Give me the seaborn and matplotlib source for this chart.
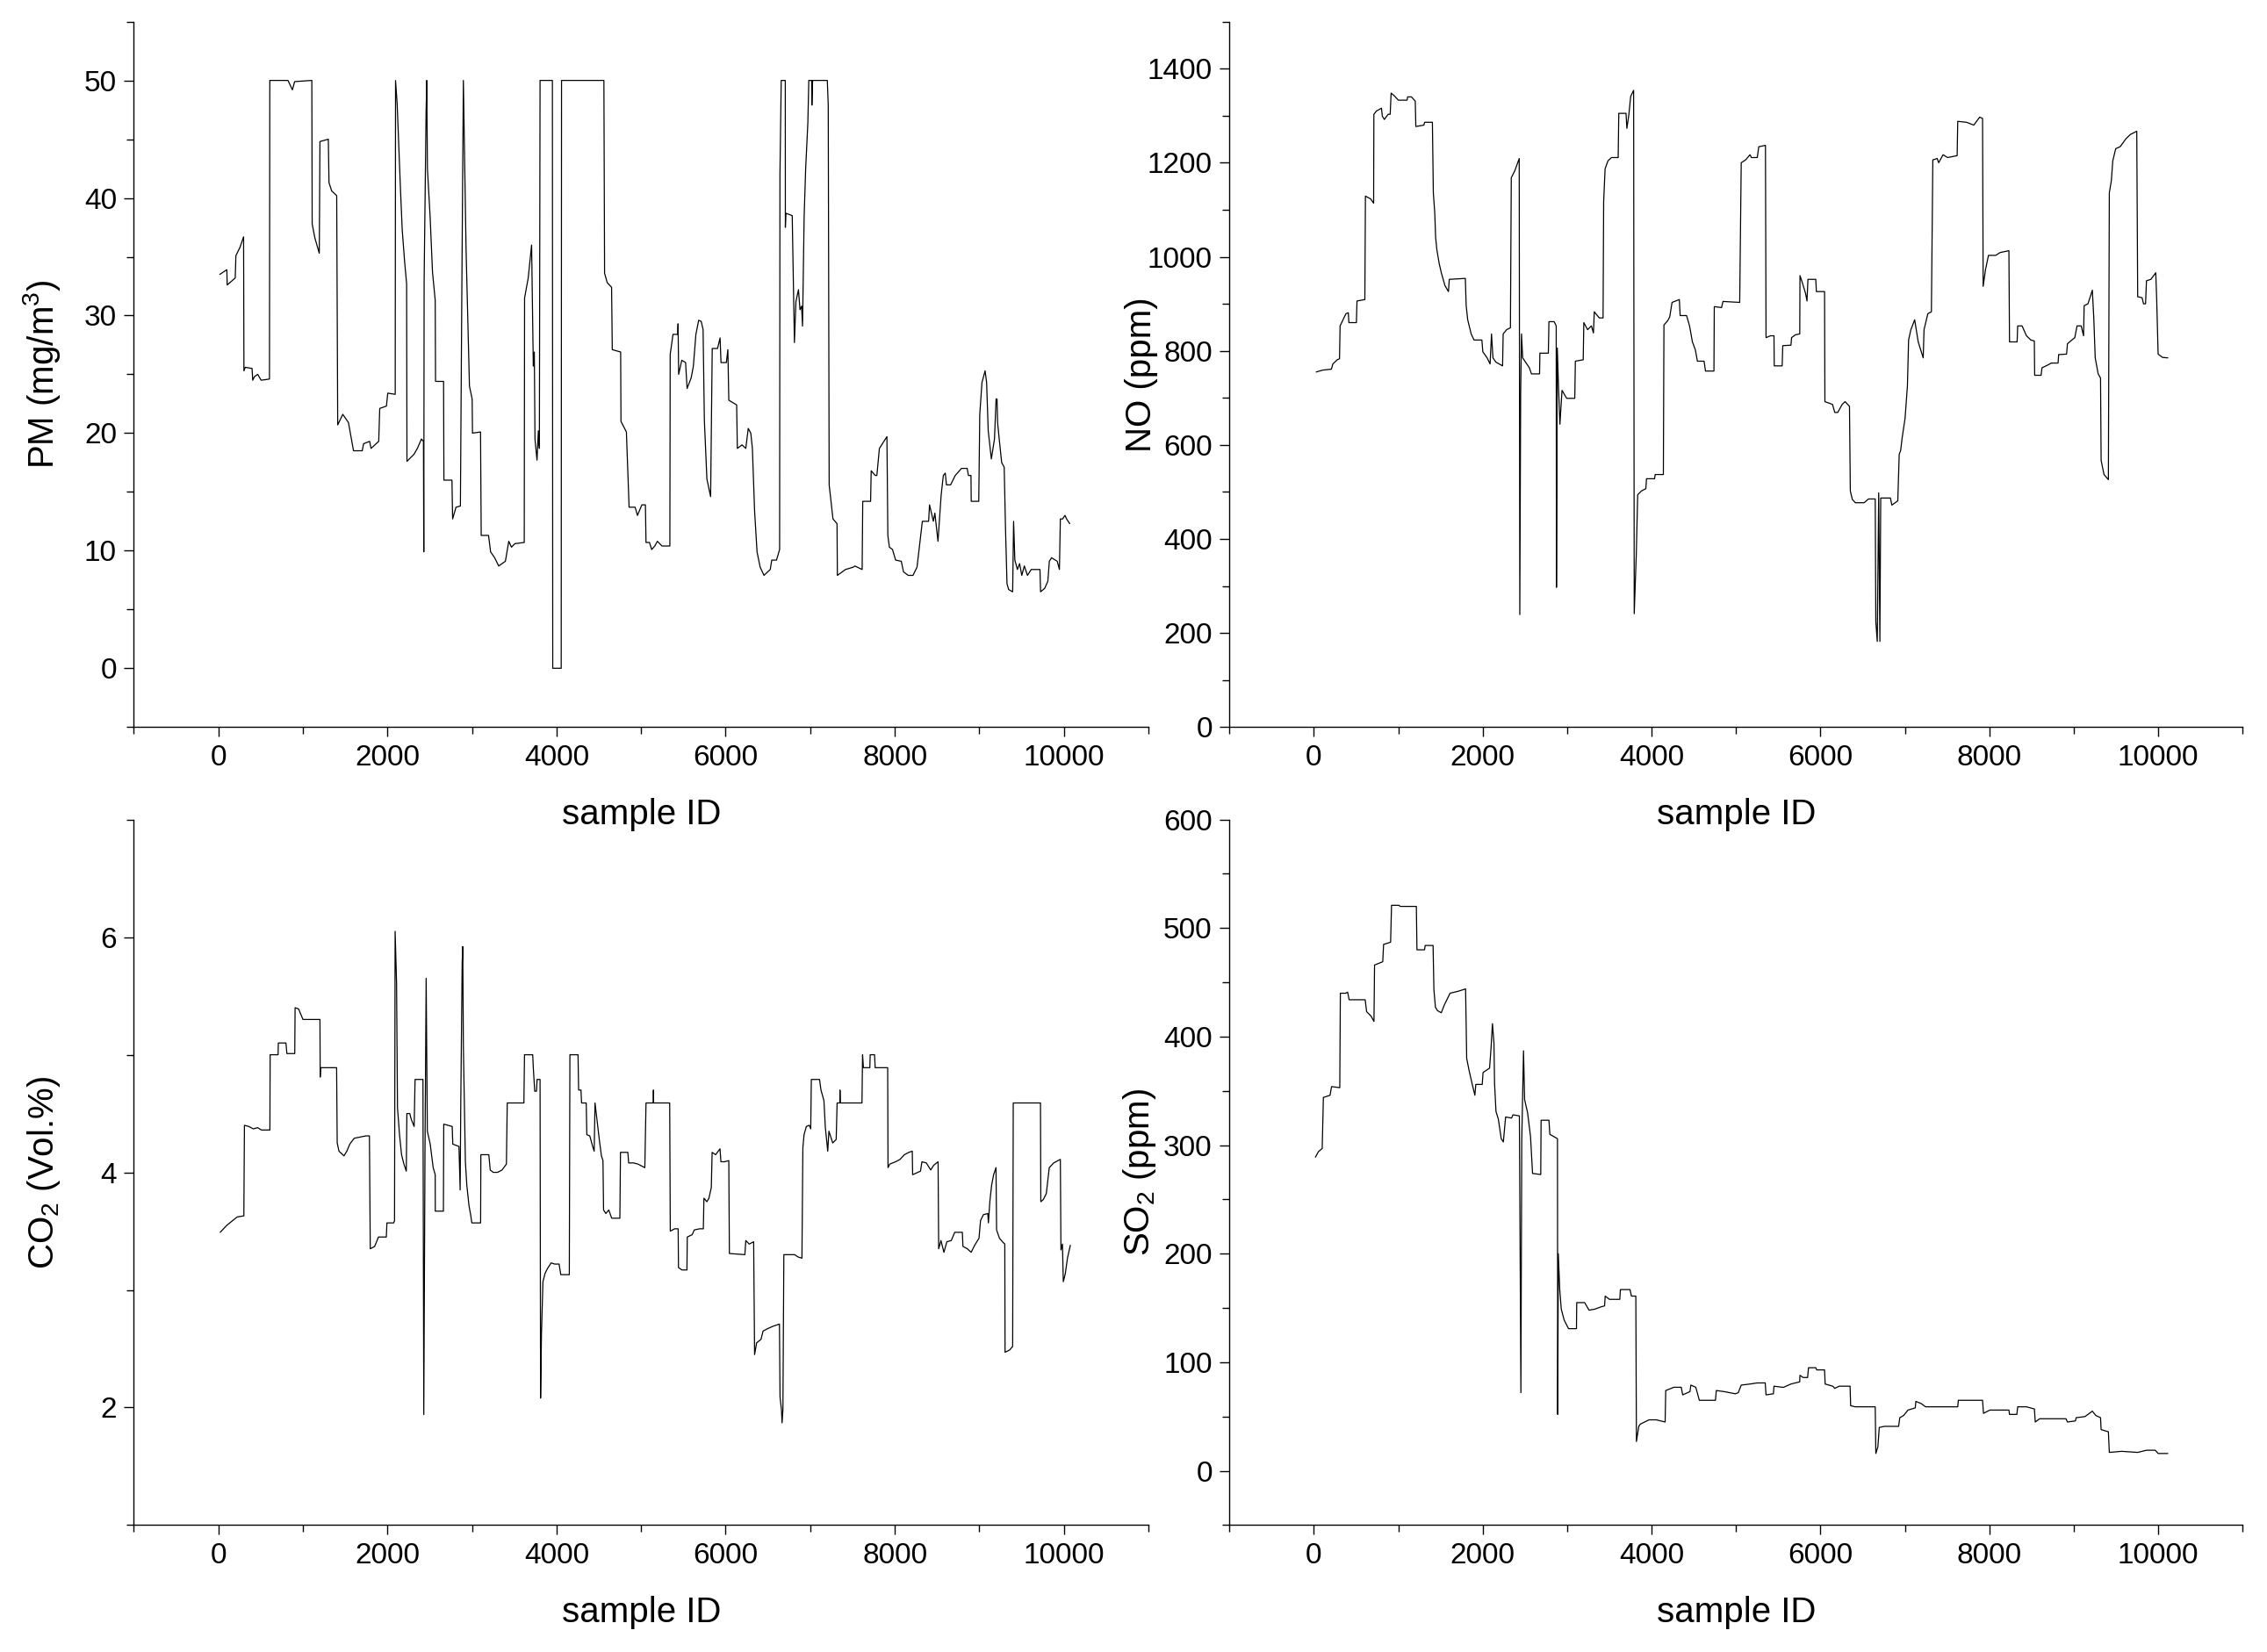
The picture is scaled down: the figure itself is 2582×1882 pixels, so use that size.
import pandas as pd
import matplotlib
matplotlib.use("Agg")
import matplotlib.pyplot as plt
from matplotlib.ticker import MultipleLocator
import seaborn as sns

# values (sample ID, concentration)
pm_x = [17, 101, 105, 200, 208, 256, 299, 303, 319, 399, 407, 427, 466, 506, 605, 609, 824, 876, 903, 1106,
        1110, 1142, 1194, 1202, 1301, 1309, 1341, 1400, 1412, 1472, 1539, 1599, 1702, 1718, 1790, 1806, 1897,
        1909, 1988, 2004, 2092, 2096, 2115, 2135, 2155, 2175, 2203, 2227, 2231, 2314, 2354, 2402, 2426, 2430,
        2434, 2457, 2465, 2473, 2505, 2533, 2565, 2569, 2664, 2668, 2763, 2771, 2811, 2863, 2879, 2898, 2910,
        2930, 2950, 2970, 3002, 3006, 3101, 3109, 3196, 3220, 3268, 3316, 3395, 3435, 3467, 3507, 3618, 3622,
        3665, 3705, 3713, 3725, 3737, 3745, 3769, 3785, 3797, 3805, 3951, 3955, 4055, 4059, 4560, 4568, 4599,
        4651, 4659, 4758, 4762, 4826, 4858, 4929, 4957, 5009, 5051, 5058, 5099, 5125, 5162, 5192, 5247, 5340,
        5344, 5377, 5433, 5437, 5444, 5481, 5526, 5544, 5592, 5618, 5648, 5681, 5711, 5733, 5748, 5778, 5822,
        5841, 5904, 5934, 5945, 6008, 6026, 6037, 6130, 6138, 6193, 6238, 6267, 6297, 6316, 6342, 6371, 6408,
        6453, 6527, 6545, 6601, 6638, 6642, 6657, 6705, 6706, 6712, 6787, 6813, 6831, 6861, 6879, 6898, 6909,
        6928, 6946, 6972, 6983, 7017, 7020, 7028, 7202, 7213, 7224, 7269, 7317, 7321, 7417, 7510, 7528, 7614,
        7621, 7714, 7721, 7769, 7788, 7818, 7862, 7907, 7918, 7936, 7973, 8010, 8077, 8103, 8159, 8215, 8263,
        8326, 8400, 8411, 8456, 8474, 8511, 8548, 8574, 8597, 8611, 8660, 8715, 8789, 8856, 8871, 8901, 8904,
        8993, 9005, 9031, 9068, 9086, 9105, 9142, 9179, 9198, 9209, 9216, 9235, 9264, 9294, 9309, 9327, 9346,
        9394, 9405, 9420, 9450, 9476, 9502, 9532, 9569, 9613, 9717, 9724, 9773, 9810, 9828, 9854, 9921, 9947,
        9958, 9984, 10013, 10032, 10069]
pm_y = [33.5, 33.9, 32.6, 33.2, 35.1, 35.8, 36.7, 25.3, 25.6, 25.5, 24.5, 24.8, 25.0, 24.5, 24.6, 50, 50, 49.2,
        49.9, 50, 37.8, 36.6, 35.3, 44.8, 45, 41.3, 40.6, 40.2, 20.7, 21.6, 20.9, 18.5, 18.5, 19.1, 19.3, 18.7,
        19.3, 22.1, 22.3, 23.4, 23.3, 50, 48, 44.2, 40.6, 37.3, 34.6, 32.7, 17.6, 18.2, 18.7, 19.5, 19.3, 9.9,
        33, 47.3, 50, 42.5, 38.4, 33.7, 31.3, 24.4, 24.4, 16.0, 16.0, 12.7, 13.7, 13.8, 31.2, 50, 44.5, 35.6,
        29.8, 24.0, 22.9, 20.0, 20.1, 11.3, 11.3, 9.9, 9.4, 8.7, 9.1, 10.8, 10.3, 10.6, 10.7, 31.5, 33.2, 36.0,
        31.8, 25.7, 26.9, 19.5, 17.7, 20.2, 18.7, 50, 50, 0, 0, 50, 50, 33.6, 32.8, 32.4, 27.1, 26.9, 21.0, 20.1,
        13.7, 13.7, 13.0, 13.9, 13.9, 10.7, 10.7, 10.1, 10.4, 10.8, 10.4, 10.4, 26.7, 28.4, 28.4, 29.3, 25.0,
        26.2, 26.0, 23.8, 24.7, 25.7, 28.4, 29.6, 29.5, 28.8, 21.1, 16.1, 14.6, 27.2, 27.2, 28.1, 26.0, 26.0,
        27.1, 22.8, 22.4, 18.7, 19.0, 18.7, 20.4, 20.0, 18.7, 13.4, 9.9, 8.6, 7.9, 8.4, 9.2, 9.2, 10.1, 42.0,
        50, 50, 37.5, 38.7, 38.5, 27.7, 31.2, 32.2, 30.5, 30.8, 29.1, 38.4, 42.5, 46.4, 50, 50, 47.9, 50, 50,
        47.9, 15.6, 12.7, 12.3, 7.9, 8.4, 8.6, 8.7, 8.4, 14.2, 14.2, 16.8, 16.4, 16.4, 18.7, 19.2, 19.7, 11.3,
        10.3, 10.1, 9.2, 9.1, 8.2, 7.9, 7.9, 8.6, 12.5, 12.5, 13.9, 12.5, 13.2, 10.8, 14.7, 16.4, 16.6, 15.6,
        15.6, 16.4, 17.0, 17.0, 16.4, 16.4, 14.2, 14.2, 21.6, 24.3, 25.3, 24.3, 20.2, 17.8, 19.5, 22.9, 22.9,
        20.9, 19.5, 17.5, 17.1, 12.0, 7.2, 6.7, 6.5, 12.5, 9.2, 8.4, 8.9, 7.9, 8.7, 7.9, 8.4, 8.4, 6.5, 6.8,
        7.4, 9.1, 9.4, 9.1, 8.4, 12.7, 12.7, 13.0, 12.7, 12.3]

no_x = [28, 104, 208, 225, 277, 304, 311, 346, 380, 408, 415, 504, 511, 604, 611, 673, 708, 711, 742, 801, 811,
        835, 880, 904, 915, 949, 1001, 1104, 1111, 1156, 1201, 1208, 1304, 1311, 1404, 1415, 1432, 1442, 1456,
        1484, 1511, 1552, 1594, 1604, 1794, 1804, 1822, 1863, 1897, 1990, 2001, 2052, 2087, 2104, 2121, 2156,
        2235, 2242, 2283, 2328, 2338, 2380, 2432, 2439, 2449, 2459, 2473, 2552, 2577, 2673, 2677, 2777, 2784,
        2846, 2870, 2873, 2883, 2897, 2914, 2939, 2994, 3090, 3097, 3190, 3197, 3242, 3287, 3311, 3321, 3380,
        3425, 3432, 3449, 3483, 3525, 3604, 3611, 3697, 3707, 3731, 3752, 3787, 3794, 3818, 3835, 3880, 3932,
        3939, 4035, 4042, 4139, 4146, 4190, 4214, 4242, 4328, 4338, 4414, 4449, 4483, 4518, 4542, 4621, 4638,
        4738, 4742, 4828, 4845, 5043, 5061, 5113, 5165, 5182, 5251, 5269, 5348, 5355, 5407, 5449, 5452, 5546,
        5553, 5650, 5657, 5702, 5754, 5757, 5788, 5823, 5840, 5851, 5944, 5951, 6048, 6052, 6142, 6169, 6204,
        6256, 6291, 6343, 6353, 6377, 6412, 6516, 6568, 6648, 6655, 6672, 6689, 6703, 6713, 6828, 6845, 6915,
        6932, 6949, 6966, 7001, 7029, 7043, 7070, 7115, 7157, 7216, 7226, 7271, 7313, 7330, 7382, 7399, 7452,
        7504, 7618, 7625, 7729, 7815, 7885, 7919, 7926, 7954, 7989, 8075, 8127, 8231, 8238, 8328, 8335, 8387,
        8439, 8491, 8532, 8536, 8612, 8623, 8682, 8734, 8813, 8820, 8914, 8924, 8976, 9011, 9038, 9087, 9115,
        9122, 9167, 9219, 9236, 9253, 9288, 9316, 9323, 9357, 9409, 9420, 9444, 9461, 9496, 9548, 9617, 9669,
        9745, 9756, 9808, 9825, 9849, 9860, 9912, 9970, 9981, 9998, 10050, 10113]
no_y = [755, 759, 761, 772, 781, 783, 853, 866, 879, 881, 860, 860, 906, 909, 1129, 1123, 1114, 1303, 1310, 1316,
        1299, 1292, 1303, 1303, 1348, 1343, 1333, 1333, 1340, 1340, 1331, 1277, 1280, 1286, 1286, 1136, 1093,
        1042, 1016, 986, 965, 939, 926, 952, 954, 896, 866, 836, 823, 823, 798, 785, 772, 836, 785, 776, 768,
        836, 845, 849, 1168, 1183, 1209, 239, 708, 836, 785, 764, 751, 751, 795, 795, 862, 862, 853, 297, 806,
        725, 644, 716, 699, 699, 778, 781, 860, 845, 853, 838, 883, 870, 870, 1117, 1187, 1204, 1211, 1211,
        1305, 1305, 1273, 1303, 1341, 1354, 241, 365, 494, 502, 507, 528, 528, 537, 537, 855, 864, 872, 903,
        909, 875, 875, 853, 819, 802, 778, 778, 757, 757, 894, 892, 905, 903, 1200, 1206, 1217, 1211, 1211,
        1234, 1237, 828, 832, 832, 768, 768, 811, 812, 828, 834, 836, 960, 943, 922, 906, 952, 952, 926, 926,
        692, 686, 669, 669, 686, 692, 682, 502, 484, 477, 477, 485, 485, 224, 182, 498, 182, 487, 487, 472,
        481, 580, 588, 614, 656, 725, 823, 845, 866, 819, 785, 845, 879, 883, 1206, 1209, 1200, 1217, 1211,
        1215, 1288, 1286, 1280, 1297, 1294, 937, 973, 1003, 1003, 1009, 1013, 819, 819, 853, 853, 832, 823,
        821, 748, 748, 764, 769, 774, 774, 792, 793, 815, 823, 828, 853, 853, 832, 896, 900, 929, 870, 785,
        751, 742, 567, 537, 526, 1136, 1162, 1204, 1230, 1234, 1251, 1260, 1267, 915, 913, 900, 900, 949, 952,
        966, 909, 793, 786, 785]

co2_x = [22, 101, 170, 222, 302, 309, 361, 413, 465, 510, 610, 613, 707, 710, 800, 811, 904, 908, 949, 1001,
         1202, 1205, 1209, 1399, 1406, 1427, 1486, 1520, 1555, 1607, 1676, 1745, 1787, 1797, 1849, 1894, 1987,
         1994, 2074, 2084, 2091, 2108, 2119, 2143, 2167, 2195, 2223, 2230, 2264, 2282, 2316, 2327, 2420, 2430,
         2444, 2458, 2472, 2506, 2541, 2565, 2566, 2662, 2666, 2766, 2773, 2846, 2860, 2867, 2884, 2891, 2898,
         2908, 2922, 2939, 2964, 2984, 2998, 3102, 3105, 3199, 3216, 3251, 3303, 3355, 3407, 3417, 3614, 3621,
         3718, 3725, 3742, 3763, 3770, 3805, 3811, 3822, 3839, 3864, 3891, 3936, 3978, 4030, 4050, 4151, 4158,
         4254, 4261, 4289, 4296, 4351, 4358, 4393, 4427, 4445, 4455, 4479, 4507, 4531, 4549, 4556, 4583, 4618,
         4652, 4749, 4756, 4843, 4853, 4912, 4964, 5044, 5058, 5144, 5146, 5148, 5338, 5345, 5397, 5438, 5442,
         5483, 5542, 5546, 5604, 5629, 5691, 5736, 5743, 5778, 5802, 5830, 5840, 5881, 5933, 5944, 5985, 6037,
         6044, 6227, 6238, 6279, 6331, 6342, 6366, 6418, 6442, 6494, 6556, 6636, 6643, 6660, 6667, 6677, 6688,
         6729, 6816, 6857, 6902, 6913, 6927, 6954, 6989, 7006, 7013, 7110, 7127, 7162, 7179, 7207, 7221, 7266,
         7307, 7318, 7350, 7352, 7356, 7612, 7619, 7629, 7705, 7709, 7761, 7768, 7916, 7920, 7940, 8010, 8062,
         8114, 8166, 8207, 8211, 8304, 8321, 8373, 8425, 8460, 8512, 8519, 8546, 8581, 8616, 8668, 8709, 8799,
         8806, 8858, 8903, 8945, 8996, 9014, 9048, 9100, 9107, 9124, 9145, 9169, 9197, 9204, 9238, 9273, 9301,
         9304, 9360, 9394, 9401, 9723, 9727, 9758, 9792, 9827, 9879, 9958, 9965, 9983, 9993, 10017, 10042, 10076]
co2_y = [3.49, 3.55, 3.59, 3.62, 3.63, 4.40, 4.39, 4.37, 4.38, 4.36, 4.36, 5.00, 5.00, 5.10, 5.10, 5.01, 5.01,
         5.40, 5.39, 5.30, 5.30, 4.81, 4.89, 4.89, 4.25, 4.18, 4.14, 4.18, 4.24, 4.29, 4.30, 4.31, 4.31, 3.35,
         3.37, 3.45, 3.45, 3.57, 3.57, 3.59, 6.05, 5.61, 4.55, 4.32, 4.15, 4.07, 4.01, 4.50, 4.50, 4.45, 4.39,
         4.79, 4.79, 1.94, 4.15, 5.65, 4.35, 4.24, 4.04, 3.98, 3.67, 3.67, 4.41, 4.39, 4.24, 4.22, 3.85, 4.55,
         5.79, 5.92, 5.07, 4.67, 4.09, 3.89, 3.72, 3.64, 3.57, 3.57, 4.15, 4.15, 4.02, 4.00, 4.00, 4.02, 4.07,
         4.59, 4.59, 5.00, 5.00, 4.89, 4.69, 4.69, 4.79, 4.79, 2.08, 2.64, 3.07, 3.14, 3.18, 3.23, 3.22, 3.22,
         3.13, 3.13, 5.00, 5.00, 4.70, 4.70, 4.59, 4.59, 4.32, 4.31, 4.22, 4.18, 4.59, 4.44, 4.27, 4.14, 4.10,
         3.68, 3.65, 3.68, 3.61, 3.61, 4.17, 4.17, 4.08, 4.08, 4.07, 4.04, 4.59, 4.59, 4.70, 4.59, 4.59, 3.50,
         3.52, 3.52, 3.19, 3.17, 3.17, 3.45, 3.47, 3.51, 3.52, 3.52, 3.78, 3.75, 3.78, 3.87, 4.17, 4.15, 4.20,
         4.09, 4.09, 4.10, 3.31, 3.30, 3.42, 3.39, 3.41, 2.45, 2.55, 2.58, 2.65, 2.67, 2.69, 2.71, 2.09, 1.98,
         1.87, 1.98, 3.30, 3.30, 3.30, 3.28, 3.27, 4.21, 4.32, 4.39, 4.40, 4.37, 4.79, 4.79, 4.70, 4.61, 4.38,
         4.18, 4.35, 4.25, 4.28, 4.59, 4.59, 4.70, 4.59, 4.59, 5.00, 4.89, 4.89, 5.00, 5.00, 4.89, 4.89, 4.04,
         4.07, 4.09, 4.11, 4.15, 4.17, 4.18, 3.98, 4.01, 4.09, 4.08, 4.02, 4.06, 4.09, 3.35, 3.42, 3.32, 3.41,
         3.42, 3.49, 3.49, 3.37, 3.35, 3.32, 3.38, 3.44, 3.59, 3.64, 3.65, 3.57, 3.75, 3.89, 3.98, 4.04, 3.51,
         3.44, 3.41, 3.39, 2.47, 2.49, 2.52, 4.59, 4.59, 3.75, 3.77, 3.82, 4.04, 4.08, 4.11, 3.34, 3.39, 3.07,
         3.14, 3.27, 3.38]

so2_x = [19, 54, 99, 113, 192, 210, 307, 314, 376, 400, 418, 608, 625, 677, 712, 719, 816, 826, 909, 920, 1007,
         1024, 1214, 1221, 1311, 1318, 1412, 1422, 1440, 1464, 1509, 1544, 1613, 1717, 1797, 1810, 1838, 1873,
         1907, 1918, 1994, 2004, 2081, 2098, 2115, 2133, 2140, 2157, 2185, 2219, 2244, 2271, 2341, 2358, 2434,
         2452, 2462, 2483, 2496, 2531, 2566, 2590, 2687, 2691, 2784, 2795, 2885, 2888, 2895, 2912, 2930, 2964,
         3016, 3110, 3113, 3207, 3259, 3328, 3398, 3443, 3450, 3501, 3623, 3630, 3744, 3761, 3813, 3820, 3848,
         3865, 3917, 3969, 4056, 4160, 4167, 4264, 4351, 4368, 4454, 4465, 4523, 4565, 4756, 4766, 4860, 4991,
         5026, 5061, 5165, 5251, 5345, 5355, 5442, 5449, 5546, 5563, 5650, 5754, 5756, 5795, 5847, 5858, 5944,
         5955, 6048, 6055, 6145, 6169, 6221, 6350, 6357, 6412, 6447, 6648, 6655, 6679, 6696, 6758, 6925, 6939,
         6984, 7036, 7122, 7129, 7192, 7244, 7625, 7632, 7919, 7930, 8006, 8231, 8238, 8325, 8335, 8439, 8533,
         8543, 8595, 8907, 8924, 9018, 9028, 9132, 9219, 9260, 9316, 9323, 9409, 9420, 9565, 9756, 9860, 9964,
         9998, 10113]
so2_y = [289, 294, 297, 344, 346, 354, 353, 440, 440, 441, 434, 434, 423, 419, 414, 466, 469, 485, 487, 521, 521,
         520, 520, 480, 480, 484, 484, 443, 427, 424, 422, 429, 440, 442, 444, 380, 369, 357, 346, 356, 356,
         367, 371, 389, 412, 394, 357, 331, 324, 306, 303, 326, 325, 328, 327, 72, 304, 387, 342, 330, 308, 274,
         273, 323, 323, 310, 306, 52, 200, 167, 149, 139, 131, 131, 155, 155, 148, 149, 151, 152, 161, 158,
         158, 167, 167, 161, 161, 27, 41, 43, 45, 47, 47, 45, 74, 77, 77, 70, 73, 79, 77, 65, 65, 74, 73, 71,
         72, 79, 80, 81, 81, 70, 71, 78, 77, 77, 80, 82, 88, 86, 86, 95, 95, 93, 93, 80, 78, 76, 78, 78, 60,
         59, 59, 59, 16, 22, 40, 41, 41, 49, 51, 56, 58, 64, 62, 59, 59, 65, 65, 53, 56, 56, 52, 52, 59, 59,
         57, 45, 48, 48, 45, 46, 49, 50, 55, 51, 49, 38, 36, 17, 18, 17, 19, 19, 16, 16]

sns.set_style("ticks")
plt.rcParams["font.family"] = ["Liberation Sans", "DejaVu Sans"]
plt.rcParams["mathtext.fontset"] = "custom"
plt.rcParams["mathtext.rm"] = "Liberation Sans"
plt.rcParams["mathtext.it"] = "Liberation Sans:italic"
for k in ["text.color", "axes.labelcolor", "xtick.color", "ytick.color", "axes.edgecolor"]:
    plt.rcParams[k] = "black"

fig = plt.figure(figsize=(25.82, 18.82), dpi=100)

panels = [
    (pm_x, pm_y, "PM (mg/m$^3$)", (-5, 55), 10, 5, [0.0590, 0.5599, 0.4476, 0.4270]),
    (no_x, no_y, "NO (ppm)", (0, 1500), 200, 100, [0.5423, 0.5599, 0.4470, 0.4270]),
    (co2_x, co2_y, "CO$_2$ (Vol.%)", (1, 7), 2, 1, [0.0590, 0.0768, 0.4476, 0.4271]),
    (so2_x, so2_y, "SO$_2$ (ppm)", (-50, 600), 100, 50, [0.5423, 0.0768, 0.4470, 0.4271]),
]

for xs, ys, label, ylim, major, minor, pos in panels:
    ax = fig.add_axes(pos)
    ax.set_facecolor("none")  # so the upper "sample ID" labels are not hidden
    df = pd.DataFrame({"sample": xs, "value": ys})
    sns.lineplot(data=df, x="sample", y="value", estimator=None, sort=False,
                 color="black", linewidth=0.9, ax=ax)
    ax.set_xlim(-1000, 11000)
    ax.set_ylim(*ylim)
    ax.xaxis.set_major_locator(MultipleLocator(2000))
    ax.xaxis.set_minor_locator(MultipleLocator(1000))
    ax.yaxis.set_major_locator(MultipleLocator(major))
    ax.yaxis.set_minor_locator(MultipleLocator(minor))
    sns.despine(ax=ax)
    for s in ["left", "bottom"]:
        ax.spines[s].set_linewidth(1.0)
    ax.tick_params(which="major", direction="out", length=8, width=1.0, labelsize=24, pad=6)
    ax.tick_params(which="minor", direction="out", length=6, width=1.0)
    ax.set_xlabel("sample ID", fontsize=29)
    ax.set_ylabel(label, fontsize=29)
    ax.xaxis.set_label_coords(0.5, -0.1)
    ax.yaxis.set_label_coords(-0.07, 0.5)

fig.savefig("out.png", dpi=100)
